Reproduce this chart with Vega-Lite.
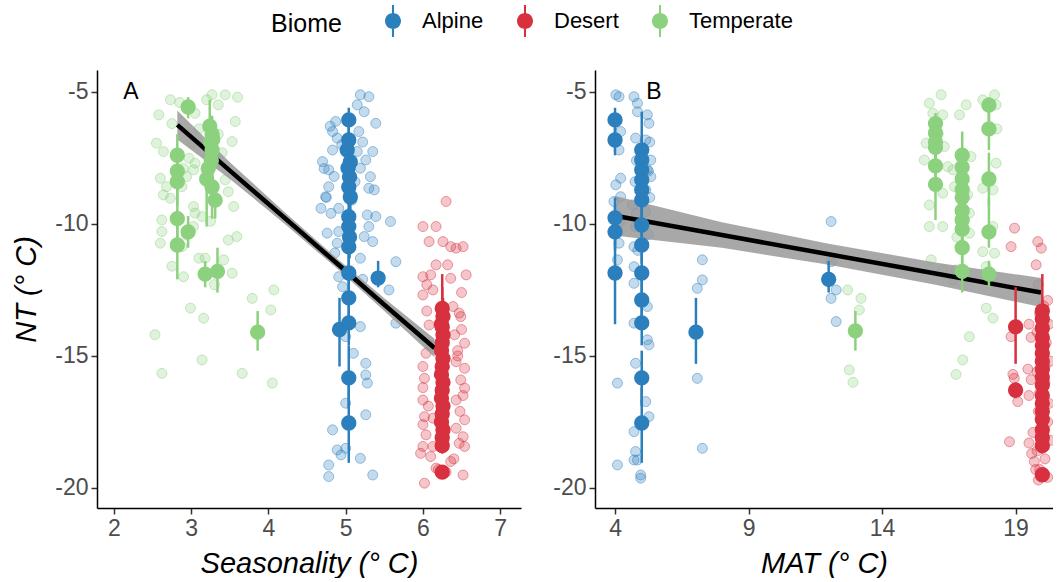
{
  "$schema": "https://vega.github.io/schema/vega-lite/v6.json",
  "background": "white",
  "padding": {"left": 12, "top": 10, "right": 0, "bottom": 0},
  "bounds": "flush",
  "spacing": 74,
  "config": {
    "view": {"stroke": null},
    "font": "Liberation Sans",
    "axis": {"domainColor": "black", "domainWidth": 1.5, "tickColor": "#333333", "tickWidth": 1.5, "tickSize": 6, "labelColor": "#4d4d4d", "labelFontSize": 23, "labelFont": "Liberation Sans", "labelPadding": 3, "grid": false, "titleFont": "Liberation Sans", "titleFontSize": 29, "titleFontStyle": "italic", "titleFontWeight": "normal", "titleColor": "black"}
  },
  "datasets": {
    "rawA": [
      {"x":2.73,"NT":-5.30,"Biome":"Temperate"},{"x":3.27,"NT":-5.11,"Biome":"Temperate"},{"x":3.44,"NT":-5.11,"Biome":"Temperate"},{"x":3.35,"NT":-5.49,"Biome":"Temperate"},{"x":2.58,"NT":-5.87,"Biome":"Temperate"},{"x":3.05,"NT":-5.81,"Biome":"Temperate"},{"x":3.57,"NT":-6.12,"Biome":"Temperate"},{"x":2.55,"NT":-6.94,"Biome":"Temperate"},{"x":3.01,"NT":-6.94,"Biome":"Temperate"},{"x":3.53,"NT":-6.88,"Biome":"Temperate"},{"x":2.64,"NT":-7.26,"Biome":"Temperate"},{"x":2.97,"NT":-7.51,"Biome":"Temperate"},{"x":3.05,"NT":-7.70,"Biome":"Temperate"},{"x":3.03,"NT":-7.95,"Biome":"Temperate"},{"x":2.60,"NT":-8.27,"Biome":"Temperate"},{"x":2.94,"NT":-8.21,"Biome":"Temperate"},{"x":3.44,"NT":-8.33,"Biome":"Temperate"},{"x":2.68,"NT":-8.59,"Biome":"Temperate"},{"x":2.64,"NT":-8.90,"Biome":"Temperate"},{"x":2.88,"NT":-8.59,"Biome":"Temperate"},{"x":3.48,"NT":-8.78,"Biome":"Temperate"},{"x":2.73,"NT":-9.03,"Biome":"Temperate"},{"x":3.03,"NT":-9.34,"Biome":"Temperate"},{"x":3.55,"NT":-9.34,"Biome":"Temperate"},{"x":3.05,"NT":-9.59,"Biome":"Temperate"},{"x":2.62,"NT":-9.85,"Biome":"Temperate"},{"x":3.14,"NT":-9.72,"Biome":"Temperate"},{"x":2.62,"NT":-10.29,"Biome":"Temperate"},{"x":3.03,"NT":-10.10,"Biome":"Temperate"},{"x":2.94,"NT":-10.42,"Biome":"Temperate"},{"x":3.59,"NT":-10.48,"Biome":"Temperate"},{"x":3.48,"NT":-10.61,"Biome":"Temperate"},{"x":2.60,"NT":-10.73,"Biome":"Temperate"},{"x":2.88,"NT":-10.86,"Biome":"Temperate"},{"x":3.10,"NT":-11.30,"Biome":"Temperate"},{"x":3.42,"NT":-11.36,"Biome":"Temperate"},{"x":2.90,"NT":-12.0,"Biome":"Temperate"},{"x":3.53,"NT":-11.87,"Biome":"Temperate"},{"x":3.18,"NT":-11.30,"Biome":"Temperate"},{"x":3.79,"NT":-12.82,"Biome":"Temperate"},{"x":4.07,"NT":-12.50,"Biome":"Temperate"},{"x":4.03,"NT":-13.26,"Biome":"Temperate"},{"x":2.99,"NT":-13.19,"Biome":"Temperate"},{"x":3.16,"NT":-13.57,"Biome":"Temperate"},{"x":2.53,"NT":-14.2,"Biome":"Temperate"},{"x":3.14,"NT":-15.15,"Biome":"Temperate"},{"x":2.62,"NT":-15.66,"Biome":"Temperate"},{"x":3.66,"NT":-15.66,"Biome":"Temperate"},{"x":4.05,"NT":-16.03,"Biome":"Temperate"},{"x":2.85,"NT":-5.4,"Biome":"Temperate"},{"x":3.2,"NT":-5.3,"Biome":"Temperate"},{"x":3.6,"NT":-5.2,"Biome":"Temperate"},{"x":3.1,"NT":-6.4,"Biome":"Temperate"},{"x":3.35,"NT":-6.6,"Biome":"Temperate"},{"x":2.75,"NT":-6.2,"Biome":"Temperate"},{"x":3.4,"NT":-7.3,"Biome":"Temperate"},{"x":2.9,"NT":-7.9,"Biome":"Temperate"},{"x":3.25,"NT":-9.9,"Biome":"Temperate"},{"x":2.75,"NT":-11.6,"Biome":"Temperate"},{"x":3.3,"NT":-12.3,"Biome":"Temperate"},
      {"x":5.19,"NT":-5.11,"Biome":"Alpine"},{"x":5.30,"NT":-5.18,"Biome":"Alpine"},{"x":5.15,"NT":-5.49,"Biome":"Alpine"},{"x":5.24,"NT":-5.75,"Biome":"Alpine"},{"x":4.87,"NT":-6.12,"Biome":"Alpine"},{"x":5.39,"NT":-6.19,"Biome":"Alpine"},{"x":4.83,"NT":-6.50,"Biome":"Alpine"},{"x":4.89,"NT":-6.75,"Biome":"Alpine"},{"x":5.17,"NT":-6.50,"Biome":"Alpine"},{"x":4.83,"NT":-7.20,"Biome":"Alpine"},{"x":5.35,"NT":-7.26,"Biome":"Alpine"},{"x":5.15,"NT":-7.26,"Biome":"Alpine"},{"x":4.70,"NT":-7.64,"Biome":"Alpine"},{"x":4.78,"NT":-7.95,"Biome":"Alpine"},{"x":5.19,"NT":-7.89,"Biome":"Alpine"},{"x":5.26,"NT":-7.58,"Biome":"Alpine"},{"x":5.32,"NT":-8.21,"Biome":"Alpine"},{"x":4.78,"NT":-8.59,"Biome":"Alpine"},{"x":5.30,"NT":-8.65,"Biome":"Alpine"},{"x":4.74,"NT":-8.97,"Biome":"Alpine"},{"x":5.37,"NT":-8.71,"Biome":"Alpine"},{"x":4.91,"NT":-9.41,"Biome":"Alpine"},{"x":4.68,"NT":-9.41,"Biome":"Alpine"},{"x":4.81,"NT":-9.60,"Biome":"Alpine"},{"x":5.28,"NT":-9.66,"Biome":"Alpine"},{"x":5.39,"NT":-9.72,"Biome":"Alpine"},{"x":5.58,"NT":-9.91,"Biome":"Alpine"},{"x":4.91,"NT":-10.29,"Biome":"Alpine"},{"x":4.76,"NT":-10.35,"Biome":"Alpine"},{"x":5.24,"NT":-10.48,"Biome":"Alpine"},{"x":4.89,"NT":-10.73,"Biome":"Alpine"},{"x":5.35,"NT":-10.67,"Biome":"Alpine"},{"x":5.19,"NT":-11.30,"Biome":"Alpine"},{"x":5.65,"NT":-11.43,"Biome":"Alpine"},{"x":4.91,"NT":-12.0,"Biome":"Alpine"},{"x":5.56,"NT":-12.50,"Biome":"Alpine"},{"x":4.96,"NT":-12.38,"Biome":"Alpine"},{"x":5.65,"NT":-13.76,"Biome":"Alpine"},{"x":5.19,"NT":-13.89,"Biome":"Alpine"},{"x":5.0,"NT":-14.27,"Biome":"Alpine"},{"x":5.26,"NT":-15.28,"Biome":"Alpine"},{"x":5.26,"NT":-15.72,"Biome":"Alpine"},{"x":5.28,"NT":-16.03,"Biome":"Alpine"},{"x":5.0,"NT":-16.79,"Biome":"Alpine"},{"x":5.26,"NT":-17.23,"Biome":"Alpine"},{"x":4.83,"NT":-17.80,"Biome":"Alpine"},{"x":5.0,"NT":-18.50,"Biome":"Alpine"},{"x":4.89,"NT":-18.56,"Biome":"Alpine"},{"x":4.78,"NT":-19.13,"Biome":"Alpine"},{"x":5.19,"NT":-18.88,"Biome":"Alpine"},{"x":5.35,"NT":-19.51,"Biome":"Alpine"},{"x":4.78,"NT":-19.57,"Biome":"Alpine"},{"x":4.94,"NT":-18.75,"Biome":"Alpine"},{"x":4.72,"NT":-7.9,"Biome":"Alpine"},{"x":4.85,"NT":-8.2,"Biome":"Alpine"},{"x":5.12,"NT":-8.4,"Biome":"Alpine"},{"x":4.95,"NT":-7.0,"Biome":"Alpine"},{"x":5.22,"NT":-6.9,"Biome":"Alpine"},{"x":4.8,"NT":-6.3,"Biome":"Alpine"},{"x":5.08,"NT":-9.1,"Biome":"Alpine"},{"x":4.75,"NT":-9.0,"Biome":"Alpine"},{"x":5.3,"NT":-10.1,"Biome":"Alpine"},{"x":4.86,"NT":-11.1,"Biome":"Alpine"},{"x":5.22,"NT":-12.1,"Biome":"Alpine"},{"x":5.1,"NT":-14.9,"Biome":"Alpine"},
      {"x":6.30,"NT":-9.15,"Biome":"Desert"},{"x":6.00,"NT":-10.10,"Biome":"Desert"},{"x":6.17,"NT":-10.10,"Biome":"Desert"},{"x":6.08,"NT":-10.67,"Biome":"Desert"},{"x":6.26,"NT":-10.67,"Biome":"Desert"},{"x":6.36,"NT":-10.86,"Biome":"Desert"},{"x":6.52,"NT":-10.86,"Biome":"Desert"},{"x":6.43,"NT":-10.92,"Biome":"Desert"},{"x":6.17,"NT":-11.55,"Biome":"Desert"},{"x":6.32,"NT":-11.55,"Biome":"Desert"},{"x":6.00,"NT":-12.0,"Biome":"Desert"},{"x":6.10,"NT":-11.93,"Biome":"Desert"},{"x":6.56,"NT":-11.93,"Biome":"Desert"},{"x":6.36,"NT":-12.06,"Biome":"Desert"},{"x":6.00,"NT":-12.69,"Biome":"Desert"},{"x":6.13,"NT":-12.5,"Biome":"Desert"},{"x":6.39,"NT":-13.13,"Biome":"Desert"},{"x":6.47,"NT":-13.38,"Biome":"Desert"},{"x":6.49,"NT":-13.51,"Biome":"Desert"},{"x":6.08,"NT":-13.83,"Biome":"Desert"},{"x":6.41,"NT":-14.2,"Biome":"Desert"},{"x":6.54,"NT":-14.52,"Biome":"Desert"},{"x":6.04,"NT":-14.9,"Biome":"Desert"},{"x":6.43,"NT":-15.22,"Biome":"Desert"},{"x":6.54,"NT":-15.47,"Biome":"Desert"},{"x":6.02,"NT":-15.85,"Biome":"Desert"},{"x":6.49,"NT":-15.91,"Biome":"Desert"},{"x":6.54,"NT":-16.22,"Biome":"Desert"},{"x":6.0,"NT":-16.67,"Biome":"Desert"},{"x":6.43,"NT":-16.67,"Biome":"Desert"},{"x":6.02,"NT":-17.3,"Biome":"Desert"},{"x":6.13,"NT":-17.36,"Biome":"Desert"},{"x":6.54,"NT":-17.42,"Biome":"Desert"},{"x":6.43,"NT":-17.74,"Biome":"Desert"},{"x":6.04,"NT":-17.99,"Biome":"Desert"},{"x":6.52,"NT":-18.06,"Biome":"Desert"},{"x":6.0,"NT":-18.43,"Biome":"Desert"},{"x":6.13,"NT":-18.43,"Biome":"Desert"},{"x":6.47,"NT":-18.31,"Biome":"Desert"},{"x":6.54,"NT":-18.43,"Biome":"Desert"},{"x":5.97,"NT":-18.69,"Biome":"Desert"},{"x":6.10,"NT":-18.81,"Biome":"Desert"},{"x":6.36,"NT":-19.0,"Biome":"Desert"},{"x":6.17,"NT":-19.25,"Biome":"Desert"},{"x":6.52,"NT":-19.51,"Biome":"Desert"},{"x":6.02,"NT":-19.82,"Biome":"Desert"},{"x":6.05,"NT":-13.3,"Biome":"Desert"},{"x":6.5,"NT":-14.0,"Biome":"Desert"},{"x":6.1,"NT":-14.6,"Biome":"Desert"},{"x":6.45,"NT":-15.0,"Biome":"Desert"},{"x":6.0,"NT":-15.4,"Biome":"Desert"},{"x":6.52,"NT":-16.5,"Biome":"Desert"},{"x":6.07,"NT":-16.9,"Biome":"Desert"},{"x":6.48,"NT":-17.1,"Biome":"Desert"},{"x":6.0,"NT":-17.6,"Biome":"Desert"},{"x":6.2,"NT":-19.3,"Biome":"Desert"},{"x":6.3,"NT":-19.4,"Biome":"Desert"},{"x":6.4,"NT":-18.9,"Biome":"Desert"},{"x":6.05,"NT":-12.3,"Biome":"Desert"},{"x":6.5,"NT":-12.6,"Biome":"Desert"},{"x":6.45,"NT":-14.8,"Biome":"Desert"},{"x":6.0,"NT":-16.2,"Biome":"Desert"}
    ],
    "rawB": [
      {"x":4.03,"NT":-5.11,"Biome":"Alpine"},{"x":4.15,"NT":-5.18,"Biome":"Alpine"},{"x":4.71,"NT":-5.18,"Biome":"Alpine"},{"x":4.84,"NT":-5.43,"Biome":"Alpine"},{"x":4.84,"NT":-5.75,"Biome":"Alpine"},{"x":5.21,"NT":-5.87,"Biome":"Alpine"},{"x":5.27,"NT":-6.19,"Biome":"Alpine"},{"x":4.21,"NT":-6.5,"Biome":"Alpine"},{"x":4.77,"NT":-6.75,"Biome":"Alpine"},{"x":4.15,"NT":-7.2,"Biome":"Alpine"},{"x":5.15,"NT":-6.82,"Biome":"Alpine"},{"x":5.34,"NT":-7.58,"Biome":"Alpine"},{"x":5.21,"NT":-7.95,"Biome":"Alpine"},{"x":4.21,"NT":-8.27,"Biome":"Alpine"},{"x":4.03,"NT":-8.52,"Biome":"Alpine"},{"x":5.34,"NT":-8.21,"Biome":"Alpine"},{"x":5.15,"NT":-8.71,"Biome":"Alpine"},{"x":4.21,"NT":-8.97,"Biome":"Alpine"},{"x":3.96,"NT":-9.15,"Biome":"Alpine"},{"x":4.65,"NT":-9.28,"Biome":"Alpine"},{"x":5.15,"NT":-9.53,"Biome":"Alpine"},{"x":4.21,"NT":-9.91,"Biome":"Alpine"},{"x":4.77,"NT":-10.10,"Biome":"Alpine"},{"x":4.15,"NT":-10.73,"Biome":"Alpine"},{"x":4.71,"NT":-10.86,"Biome":"Alpine"},{"x":4.09,"NT":-11.36,"Biome":"Alpine"},{"x":4.71,"NT":-11.62,"Biome":"Alpine"},{"x":7.27,"NT":-11.36,"Biome":"Alpine"},{"x":7.27,"NT":-12.12,"Biome":"Alpine"},{"x":7.08,"NT":-12.44,"Biome":"Alpine"},{"x":4.71,"NT":-12.25,"Biome":"Alpine"},{"x":5.21,"NT":-13.13,"Biome":"Alpine"},{"x":4.71,"NT":-13.76,"Biome":"Alpine"},{"x":5.21,"NT":-14.39,"Biome":"Alpine"},{"x":5.27,"NT":-14.58,"Biome":"Alpine"},{"x":4.77,"NT":-15.28,"Biome":"Alpine"},{"x":4.09,"NT":-16.03,"Biome":"Alpine"},{"x":7.08,"NT":-15.85,"Biome":"Alpine"},{"x":5.15,"NT":-16.73,"Biome":"Alpine"},{"x":5.27,"NT":-17.3,"Biome":"Alpine"},{"x":4.71,"NT":-17.87,"Biome":"Alpine"},{"x":7.27,"NT":-18.5,"Biome":"Alpine"},{"x":4.09,"NT":-19.13,"Biome":"Alpine"},{"x":4.77,"NT":-18.62,"Biome":"Alpine"},{"x":4.84,"NT":-18.94,"Biome":"Alpine"},{"x":4.96,"NT":-19.51,"Biome":"Alpine"},{"x":4.96,"NT":-19.63,"Biome":"Alpine"},{"x":4.71,"NT":-18.94,"Biome":"Alpine"},{"x":5.3,"NT":-6.9,"Biome":"Alpine"},{"x":4.8,"NT":-7.6,"Biome":"Alpine"},{"x":5.25,"NT":-8.0,"Biome":"Alpine"},{"x":4.75,"NT":-8.4,"Biome":"Alpine"},{"x":5.3,"NT":-9.0,"Biome":"Alpine"},{"x":4.8,"NT":-9.6,"Biome":"Alpine"},{"x":5.25,"NT":-10.4,"Biome":"Alpine"},{"x":4.85,"NT":-11.0,"Biome":"Alpine"},{"x":12.09,"NT":-9.91,"Biome":"Alpine"},{"x":12.1,"NT":-11.43,"Biome":"Alpine"},{"x":12.28,"NT":-12.5,"Biome":"Alpine"},{"x":12.09,"NT":-12.82,"Biome":"Alpine"},{"x":12.28,"NT":-13.7,"Biome":"Alpine"},
      {"x":15.77,"NT":-5.43,"Biome":"Temperate"},{"x":16.21,"NT":-5.11,"Biome":"Temperate"},{"x":15.90,"NT":-5.81,"Biome":"Temperate"},{"x":16.27,"NT":-5.87,"Biome":"Temperate"},{"x":16.90,"NT":-5.87,"Biome":"Temperate"},{"x":17.15,"NT":-5.49,"Biome":"Temperate"},{"x":17.77,"NT":-5.30,"Biome":"Temperate"},{"x":18.21,"NT":-5.11,"Biome":"Temperate"},{"x":18.27,"NT":-5.49,"Biome":"Temperate"},{"x":15.65,"NT":-6.94,"Biome":"Temperate"},{"x":16.33,"NT":-7.07,"Biome":"Temperate"},{"x":15.58,"NT":-7.58,"Biome":"Temperate"},{"x":16.46,"NT":-7.83,"Biome":"Temperate"},{"x":16.65,"NT":-7.95,"Biome":"Temperate"},{"x":17.33,"NT":-7.45,"Biome":"Temperate"},{"x":18.27,"NT":-7.70,"Biome":"Temperate"},{"x":16.27,"NT":-8.84,"Biome":"Temperate"},{"x":16.71,"NT":-8.59,"Biome":"Temperate"},{"x":17.77,"NT":-8.65,"Biome":"Temperate"},{"x":18.15,"NT":-8.71,"Biome":"Temperate"},{"x":15.77,"NT":-9.28,"Biome":"Temperate"},{"x":17.27,"NT":-9.59,"Biome":"Temperate"},{"x":16.27,"NT":-10.10,"Biome":"Temperate"},{"x":15.77,"NT":-10.10,"Biome":"Temperate"},{"x":18.15,"NT":-10.10,"Biome":"Temperate"},{"x":17.27,"NT":-10.35,"Biome":"Temperate"},{"x":17.77,"NT":-11.05,"Biome":"Temperate"},{"x":18.21,"NT":-11.11,"Biome":"Temperate"},{"x":15.84,"NT":-11.36,"Biome":"Temperate"},{"x":16.77,"NT":-11.74,"Biome":"Temperate"},{"x":17.90,"NT":-11.62,"Biome":"Temperate"},{"x":16.65,"NT":-12.12,"Biome":"Temperate"},{"x":16.27,"NT":-11.74,"Biome":"Temperate"},{"x":17.08,"NT":-11.81,"Biome":"Temperate"},{"x":12.71,"NT":-12.5,"Biome":"Temperate"},{"x":13.21,"NT":-12.82,"Biome":"Temperate"},{"x":13.15,"NT":-13.26,"Biome":"Temperate"},{"x":17.90,"NT":-13.19,"Biome":"Temperate"},{"x":18.15,"NT":-13.57,"Biome":"Temperate"},{"x":17.27,"NT":-14.27,"Biome":"Temperate"},{"x":17.02,"NT":-15.15,"Biome":"Temperate"},{"x":12.77,"NT":-15.53,"Biome":"Temperate"},{"x":12.91,"NT":-16.0,"Biome":"Temperate"},{"x":16.77,"NT":-15.7,"Biome":"Temperate"},{"x":16.1,"NT":-6.6,"Biome":"Temperate"},{"x":17.2,"NT":-8.9,"Biome":"Temperate"},{"x":16.8,"NT":-10.5,"Biome":"Temperate"},{"x":18.3,"NT":-6.4,"Biome":"Temperate"},
      {"x":18.96,"NT":-10.16,"Biome":"Desert"},{"x":18.83,"NT":-10.86,"Biome":"Desert"},{"x":19.83,"NT":-10.67,"Biome":"Desert"},{"x":19.96,"NT":-10.92,"Biome":"Desert"},{"x":19.77,"NT":-11.55,"Biome":"Desert"},{"x":18.83,"NT":-14.27,"Biome":"Desert"},{"x":18.9,"NT":-15.7,"Biome":"Desert"},{"x":18.95,"NT":-15.85,"Biome":"Desert"},{"x":19.08,"NT":-16.73,"Biome":"Desert"},{"x":18.77,"NT":-18.25,"Biome":"Desert"},{"x":19.46,"NT":-15.5,"Biome":"Desert"},{"x":19.58,"NT":-15.9,"Biome":"Desert"},{"x":19.5,"NT":-16.5,"Biome":"Desert"},{"x":19.65,"NT":-17.9,"Biome":"Desert"},{"x":19.6,"NT":-18.7,"Biome":"Desert"},{"x":19.7,"NT":-19.0,"Biome":"Desert"},{"x":19.75,"NT":-19.3,"Biome":"Desert"},{"x":19.5,"NT":-18.3,"Biome":"Desert"},{"x":19.5,"NT":-13.8,"Biome":"Desert"},{"x":19.58,"NT":-14.3,"Biome":"Desert"},{"x":19.85,"NT":-12.3,"Biome":"Desert"},{"x":20.2,"NT":-12.9,"Biome":"Desert"},{"x":19.9,"NT":-13.4,"Biome":"Desert"},{"x":20.25,"NT":-13.8,"Biome":"Desert"},{"x":19.8,"NT":-14.1,"Biome":"Desert"},{"x":20.15,"NT":-14.5,"Biome":"Desert"},{"x":19.95,"NT":-14.9,"Biome":"Desert"},{"x":20.3,"NT":-15.2,"Biome":"Desert"},{"x":19.8,"NT":-15.6,"Biome":"Desert"},{"x":20.1,"NT":-16.0,"Biome":"Desert"},{"x":19.9,"NT":-16.4,"Biome":"Desert"},{"x":20.25,"NT":-16.8,"Biome":"Desert"},{"x":19.85,"NT":-17.1,"Biome":"Desert"},{"x":20.2,"NT":-17.5,"Biome":"Desert"},{"x":19.95,"NT":-17.9,"Biome":"Desert"},{"x":20.3,"NT":-18.2,"Biome":"Desert"},{"x":19.8,"NT":-18.6,"Biome":"Desert"},{"x":20.1,"NT":-18.9,"Biome":"Desert"},{"x":19.9,"NT":-19.3,"Biome":"Desert"},{"x":20.2,"NT":-19.6,"Biome":"Desert"},{"x":19.85,"NT":-19.7,"Biome":"Desert"},{"x":20.05,"NT":-13.1,"Biome":"Desert"},{"x":20.1,"NT":-15.4,"Biome":"Desert"},{"x":19.95,"NT":-16.6,"Biome":"Desert"},{"x":20.0,"NT":-18.1,"Biome":"Desert"}
    ],
    "meansA": [
      {"x":2.82,"NT":-7.4,"lo":-8.2,"hi":-6.6,"Biome":"Temperate"},{"x":2.82,"NT":-8.0,"lo":-8.8,"hi":-7.2,"Biome":"Temperate"},{"x":2.82,"NT":-8.4,"lo":-9.3,"hi":-7.6,"Biome":"Temperate"},{"x":2.82,"NT":-9.8,"lo":-10.9,"hi":-8.8,"Biome":"Temperate"},{"x":2.82,"NT":-10.8,"lo":-12.1,"hi":-9.6,"Biome":"Temperate"},{"x":2.96,"NT":-5.57,"lo":-6.0,"hi":-5.2,"Biome":"Temperate"},{"x":2.96,"NT":-10.3,"lo":-10.9,"hi":-9.7,"Biome":"Temperate"},{"x":3.24,"NT":-6.3,"lo":-7.0,"hi":-5.3,"Biome":"Temperate"},{"x":3.27,"NT":-6.6,"lo":-7.4,"hi":-5.9,"Biome":"Temperate"},{"x":3.25,"NT":-6.9,"lo":-7.6,"hi":-6.2,"Biome":"Temperate"},{"x":3.28,"NT":-6.8,"lo":-7.5,"hi":-6.1,"Biome":"Temperate"},{"x":3.27,"NT":-7.2,"lo":-8.2,"hi":-6.4,"Biome":"Temperate"},{"x":3.26,"NT":-7.6,"lo":-8.5,"hi":-6.8,"Biome":"Temperate"},{"x":3.22,"NT":-7.9,"lo":-8.6,"hi":-7.2,"Biome":"Temperate"},{"x":3.20,"NT":-8.3,"lo":-10.1,"hi":-6.5,"Biome":"Temperate"},{"x":3.27,"NT":-8.6,"lo":-9.8,"hi":-7.4,"Biome":"Temperate"},{"x":3.31,"NT":-9.1,"lo":-9.8,"hi":-8.4,"Biome":"Temperate"},{"x":3.18,"NT":-11.9,"lo":-12.4,"hi":-11.4,"Biome":"Temperate"},{"x":3.34,"NT":-11.8,"lo":-12.6,"hi":-10.9,"Biome":"Temperate"},{"x":3.86,"NT":-14.1,"lo":-14.8,"hi":-13.3,"Biome":"Temperate"},
      {"x":5.04,"NT":-6.06,"lo":-6.6,"hi":-5.6,"Biome":"Alpine"},{"x":5.04,"NT":-6.82,"lo":-7.5,"hi":-6.2,"Biome":"Alpine"},{"x":5.02,"NT":-7.2,"lo":-7.9,"hi":-6.6,"Biome":"Alpine"},{"x":5.06,"NT":-7.65,"lo":-8.3,"hi":-7.0,"Biome":"Alpine"},{"x":5.03,"NT":-7.88,"lo":-8.6,"hi":-7.2,"Biome":"Alpine"},{"x":5.05,"NT":-8.22,"lo":-9.0,"hi":-7.5,"Biome":"Alpine"},{"x":5.04,"NT":-8.6,"lo":-9.3,"hi":-7.9,"Biome":"Alpine"},{"x":5.06,"NT":-8.98,"lo":-9.7,"hi":-8.3,"Biome":"Alpine"},{"x":5.04,"NT":-9.73,"lo":-10.4,"hi":-9.0,"Biome":"Alpine"},{"x":5.04,"NT":-10.1,"lo":-10.9,"hi":-9.4,"Biome":"Alpine"},{"x":5.05,"NT":-10.5,"lo":-11.3,"hi":-9.8,"Biome":"Alpine"},{"x":5.04,"NT":-10.87,"lo":-11.6,"hi":-10.1,"Biome":"Alpine"},{"x":5.04,"NT":-11.86,"lo":-12.8,"hi":-11.0,"Biome":"Alpine"},{"x":5.04,"NT":-12.8,"lo":-13.9,"hi":-11.8,"Biome":"Alpine"},{"x":5.04,"NT":-13.75,"lo":-14.6,"hi":-12.8,"Biome":"Alpine"},{"x":4.92,"NT":-14.0,"lo":-15.4,"hi":-12.8,"Biome":"Alpine"},{"x":5.04,"NT":-15.83,"lo":-17.0,"hi":-14.6,"Biome":"Alpine"},{"x":5.04,"NT":-17.54,"lo":-19.05,"hi":-16.0,"Biome":"Alpine"},{"x":5.42,"NT":-12.05,"lo":-12.4,"hi":-11.4,"Biome":"Alpine"},
      {"x":6.25,"NT":-13.2,"lo":-14.0,"hi":-11.9,"Biome":"Desert"},{"x":6.26,"NT":-13.5,"lo":-14.1,"hi":-12.8,"Biome":"Desert"},{"x":6.24,"NT":-13.8,"lo":-14.5,"hi":-13.1,"Biome":"Desert"},{"x":6.25,"NT":-13.9,"lo":-15.3,"hi":-12.4,"Biome":"Desert"},{"x":6.26,"NT":-14.2,"lo":-14.8,"hi":-13.5,"Biome":"Desert"},{"x":6.25,"NT":-14.5,"lo":-15.2,"hi":-13.9,"Biome":"Desert"},{"x":6.24,"NT":-14.8,"lo":-15.4,"hi":-14.1,"Biome":"Desert"},{"x":6.26,"NT":-15.1,"lo":-15.8,"hi":-14.5,"Biome":"Desert"},{"x":6.25,"NT":-15.4,"lo":-16.0,"hi":-14.8,"Biome":"Desert"},{"x":6.24,"NT":-15.7,"lo":-16.3,"hi":-15.0,"Biome":"Desert"},{"x":6.26,"NT":-16.0,"lo":-16.6,"hi":-15.3,"Biome":"Desert"},{"x":6.25,"NT":-16.3,"lo":-16.6,"hi":-16.0,"Biome":"Desert"},{"x":6.24,"NT":-16.6,"lo":-17.2,"hi":-16.0,"Biome":"Desert"},{"x":6.26,"NT":-16.9,"lo":-17.5,"hi":-16.3,"Biome":"Desert"},{"x":6.25,"NT":-17.2,"lo":-17.8,"hi":-16.6,"Biome":"Desert"},{"x":6.24,"NT":-17.5,"lo":-18.1,"hi":-16.9,"Biome":"Desert"},{"x":6.26,"NT":-17.8,"lo":-18.3,"hi":-17.2,"Biome":"Desert"},{"x":6.25,"NT":-18.1,"lo":-18.5,"hi":-17.5,"Biome":"Desert"},{"x":6.25,"NT":-18.4,"lo":-18.7,"hi":-17.9,"Biome":"Desert"},{"x":6.25,"NT":-19.4,"lo":-19.6,"hi":-19.2,"Biome":"Desert"}
    ],
    "meansB": [
      {"x":4.0,"NT":-6.06,"lo":-6.6,"hi":-5.6,"Biome":"Alpine"},{"x":4.0,"NT":-6.82,"lo":-7.4,"hi":-6.3,"Biome":"Alpine"},{"x":4.0,"NT":-9.77,"lo":-10.5,"hi":-9.0,"Biome":"Alpine"},{"x":4.0,"NT":-10.3,"lo":-11.0,"hi":-9.3,"Biome":"Alpine"},{"x":4.0,"NT":-11.86,"lo":-13.8,"hi":-10.2,"Biome":"Alpine"},{"x":5.0,"NT":-7.2,"lo":-8.0,"hi":-5.75,"Biome":"Alpine"},{"x":5.0,"NT":-7.58,"lo":-8.3,"hi":-6.8,"Biome":"Alpine"},{"x":5.0,"NT":-7.95,"lo":-8.7,"hi":-7.2,"Biome":"Alpine"},{"x":5.0,"NT":-8.33,"lo":-9.0,"hi":-7.6,"Biome":"Alpine"},{"x":5.0,"NT":-8.71,"lo":-9.4,"hi":-8.0,"Biome":"Alpine"},{"x":5.0,"NT":-9.09,"lo":-9.8,"hi":-8.4,"Biome":"Alpine"},{"x":5.0,"NT":-10.04,"lo":-10.8,"hi":-9.3,"Biome":"Alpine"},{"x":5.0,"NT":-10.8,"lo":-11.5,"hi":-10.1,"Biome":"Alpine"},{"x":5.0,"NT":-11.86,"lo":-12.6,"hi":-11.1,"Biome":"Alpine"},{"x":5.0,"NT":-12.88,"lo":-13.6,"hi":-12.1,"Biome":"Alpine"},{"x":5.0,"NT":-13.75,"lo":-14.6,"hi":-12.9,"Biome":"Alpine"},{"x":5.0,"NT":-15.83,"lo":-16.9,"hi":-14.8,"Biome":"Alpine"},{"x":5.0,"NT":-17.54,"lo":-19.05,"hi":-16.2,"Biome":"Alpine"},{"x":7.03,"NT":-14.1,"lo":-15.3,"hi":-12.8,"Biome":"Alpine"},{"x":12.0,"NT":-12.1,"lo":-12.6,"hi":-11.4,"Biome":"Alpine"},
      {"x":16.0,"NT":-6.2,"lo":-6.9,"hi":-5.8,"Biome":"Temperate"},{"x":16.0,"NT":-6.55,"lo":-7.3,"hi":-5.9,"Biome":"Temperate"},{"x":16.0,"NT":-6.9,"lo":-7.6,"hi":-6.2,"Biome":"Temperate"},{"x":16.0,"NT":-7.1,"lo":-7.9,"hi":-6.4,"Biome":"Temperate"},{"x":16.0,"NT":-7.8,"lo":-8.6,"hi":-7.0,"Biome":"Temperate"},{"x":16.0,"NT":-8.5,"lo":-9.85,"hi":-7.2,"Biome":"Temperate"},{"x":17.0,"NT":-7.4,"lo":-8.1,"hi":-6.5,"Biome":"Temperate"},{"x":17.0,"NT":-7.85,"lo":-8.6,"hi":-7.1,"Biome":"Temperate"},{"x":17.0,"NT":-8.3,"lo":-9.0,"hi":-7.6,"Biome":"Temperate"},{"x":17.0,"NT":-8.7,"lo":-9.4,"hi":-8.0,"Biome":"Temperate"},{"x":17.0,"NT":-9.0,"lo":-9.8,"hi":-8.3,"Biome":"Temperate"},{"x":17.0,"NT":-9.5,"lo":-10.2,"hi":-8.8,"Biome":"Temperate"},{"x":17.0,"NT":-9.85,"lo":-10.6,"hi":-9.1,"Biome":"Temperate"},{"x":17.0,"NT":-10.2,"lo":-11.0,"hi":-9.4,"Biome":"Temperate"},{"x":17.0,"NT":-10.9,"lo":-11.7,"hi":-10.1,"Biome":"Temperate"},{"x":17.0,"NT":-11.8,"lo":-12.6,"hi":-11.0,"Biome":"Temperate"},{"x":18.0,"NT":-5.5,"lo":-6.1,"hi":-5.2,"Biome":"Temperate"},{"x":18.0,"NT":-6.4,"lo":-7.2,"hi":-5.6,"Biome":"Temperate"},{"x":18.0,"NT":-8.3,"lo":-9.3,"hi":-7.3,"Biome":"Temperate"},{"x":18.0,"NT":-10.3,"lo":-10.9,"hi":-9.0,"Biome":"Temperate"},{"x":18.0,"NT":-11.9,"lo":-12.4,"hi":-11.4,"Biome":"Temperate"},{"x":13.0,"NT":-14.05,"lo":-14.8,"hi":-13.3,"Biome":"Temperate"},
      {"x":19.0,"NT":-13.9,"lo":-15.3,"hi":-12.4,"Biome":"Desert"},{"x":19.0,"NT":-16.3,"lo":-16.6,"hi":-16.0,"Biome":"Desert"},{"x":20.0,"NT":-13.3,"lo":-14.0,"hi":-11.9,"Biome":"Desert"},{"x":20.0,"NT":-13.6,"lo":-14.2,"hi":-12.9,"Biome":"Desert"},{"x":20.0,"NT":-13.95,"lo":-14.6,"hi":-13.3,"Biome":"Desert"},{"x":20.0,"NT":-14.3,"lo":-14.9,"hi":-13.6,"Biome":"Desert"},{"x":20.0,"NT":-14.6,"lo":-15.2,"hi":-14.0,"Biome":"Desert"},{"x":20.0,"NT":-14.9,"lo":-15.5,"hi":-14.3,"Biome":"Desert"},{"x":20.0,"NT":-15.2,"lo":-15.8,"hi":-14.6,"Biome":"Desert"},{"x":20.0,"NT":-15.5,"lo":-16.1,"hi":-14.9,"Biome":"Desert"},{"x":20.0,"NT":-15.8,"lo":-16.4,"hi":-15.2,"Biome":"Desert"},{"x":20.0,"NT":-16.1,"lo":-16.7,"hi":-15.5,"Biome":"Desert"},{"x":20.0,"NT":-16.5,"lo":-17.1,"hi":-15.9,"Biome":"Desert"},{"x":20.0,"NT":-16.8,"lo":-17.4,"hi":-16.2,"Biome":"Desert"},{"x":20.0,"NT":-17.1,"lo":-17.7,"hi":-16.5,"Biome":"Desert"},{"x":20.0,"NT":-17.4,"lo":-18.0,"hi":-16.8,"Biome":"Desert"},{"x":20.0,"NT":-17.8,"lo":-18.3,"hi":-17.2,"Biome":"Desert"},{"x":20.0,"NT":-18.1,"lo":-18.5,"hi":-17.6,"Biome":"Desert"},{"x":20.0,"NT":-18.4,"lo":-18.7,"hi":-17.9,"Biome":"Desert"},{"x":20.0,"NT":-19.5,"lo":-19.7,"hi":-19.3,"Biome":"Desert"}
    ],
    "fitA": [
      {"x":2.82,"NT":-6.25,"lo":-6.8,"hi":-5.7},{"x":3.5,"NT":-7.98,"lo":-8.3,"hi":-7.66},{"x":4.2,"NT":-9.75,"lo":-9.97,"hi":-9.53},{"x":4.9,"NT":-11.53,"lo":-11.72,"hi":-11.34},{"x":5.5,"NT":-13.06,"lo":-13.3,"hi":-12.82},{"x":6.15,"NT":-14.7,"lo":-15.05,"hi":-14.35}
    ],
    "fitB": [
      {"x":4.05,"NT":-9.7,"lo":-10.45,"hi":-8.95},{"x":8.0,"NT":-10.42,"lo":-10.9,"hi":-9.94},{"x":12.0,"NT":-11.15,"lo":-11.55,"hi":-10.75},{"x":16.0,"NT":-11.88,"lo":-12.3,"hi":-11.46},{"x":19.95,"NT":-12.6,"lo":-13.15,"hi":-12.05}
    ],
    "labA": [{"x":2.22,"NT":-5.0,"t":"A"}],
    "labB": [{"x":5.46,"NT":-5.0,"t":"B"}]
  },
  "hconcat": [
    {
      "width": 424,
      "height": 438,
      "layer": [
        {
          "data": {"name": "rawA"},
          "mark": {"type": "point", "filled": true, "size": 100, "fillOpacity": 0.28, "strokeOpacity": 0.45, "strokeWidth": 1},
          "encoding": {
            "x": {"field": "x", "type": "quantitative", "scale": {"domain": [1.78, 7.27], "nice": false, "zero": false}, "axis": {"values": [2, 3, 4, 5, 6, 7], "format": "d", "title": "Seasonality (° C)", "titlePadding": 9}},
            "y": {"field": "NT", "type": "quantitative", "scale": {"domain": [-20.76, -4.17], "nice": false, "zero": false}, "axis": {"values": [-20, -15, -10, -5], "title": "NT (° C)", "titlePadding": 13, "labelExpr": "replace(datum.label, '\u2212', '-')"}},
            "color": {"field": "Biome", "type": "nominal", "scale": {"domain": ["Alpine", "Desert", "Temperate"], "range": ["#2B7FBD", "#D7303F", "#8CD17D"]}},
            "stroke": {"field": "Biome", "type": "nominal", "scale": {"domain": ["Alpine", "Desert", "Temperate"], "range": ["#2B7FBD", "#D7303F", "#8CD17D"]}, "legend": null}
          }
        },
        {
          "data": {"name": "fitA"},
          "mark": {"type": "area", "color": "#999999", "opacity": 0.85},
          "encoding": {
            "x": {"field": "x", "type": "quantitative", "title": "Seasonality (° C)"},
            "y": {"field": "lo", "type": "quantitative", "title": "NT (° C)"},
            "y2": {"field": "hi"}
          }
        },
        {
          "data": {"name": "fitA"},
          "mark": {"type": "line", "color": "black", "strokeWidth": 4.5},
          "encoding": {
            "x": {"field": "x", "type": "quantitative", "title": "Seasonality (° C)"},
            "y": {"field": "NT", "type": "quantitative", "title": "NT (° C)"}
          }
        },
        {
          "data": {"name": "meansA"},
          "mark": {"type": "rule", "strokeWidth": 2.5},
          "encoding": {
            "x": {"field": "x", "type": "quantitative", "title": "Seasonality (° C)"},
            "y": {"field": "lo", "type": "quantitative", "title": "NT (° C)"},
            "y2": {"field": "hi"},
            "color": {"field": "Biome", "type": "nominal"}
          }
        },
        {
          "data": {"name": "meansA"},
          "mark": {"type": "point", "filled": true, "size": 235, "opacity": 1},
          "encoding": {
            "x": {"field": "x", "type": "quantitative", "title": "Seasonality (° C)"},
            "y": {"field": "NT", "type": "quantitative", "title": "NT (° C)"},
            "color": {"field": "Biome", "type": "nominal",
              "legend": {"title": "Biome", "orient": "none", "legendX": 174, "legendY": -60, "direction": "horizontal", "titleOrient": "left", "titleFontSize": 25, "titleFont": "Liberation Sans", "titleFontWeight": "normal", "titleColor": "black", "titlePadding": 40, "labelFontSize": 22, "labelFont": "Liberation Sans", "labelColor": "black", "labelOffset": 18, "columnPadding": 30, "symbolType": "M-0.13,-2L0.13,-2L0.13,2L-0.13,2Z M1,0A1,1 0 1,1 -1,0A1,1 0 1,1 1,0Z", "symbolSize": 256, "symbolOpacity": 1, "symbolStrokeWidth": 0}}
          }
        },
        {
          "data": {"name": "labA"},
          "mark": {"type": "text", "fontSize": 23, "color": "black", "font": "Liberation Sans"},
          "encoding": {
            "x": {"field": "x", "type": "quantitative", "title": "Seasonality (° C)"},
            "y": {"field": "NT", "type": "quantitative", "title": "NT (° C)"},
            "text": {"field": "t"}
          }
        }
      ]
    },
    {
      "width": 458,
      "height": 438,
      "layer": [
        {
          "data": {"name": "rawB"},
          "mark": {"type": "point", "filled": true, "size": 100, "fillOpacity": 0.28, "strokeOpacity": 0.45, "strokeWidth": 1, "clip": true},
          "encoding": {
            "x": {"field": "x", "type": "quantitative", "scale": {"domain": [3.25, 20.4], "nice": false, "zero": false}, "axis": {"values": [4, 9, 14, 19], "format": "d", "title": "MAT (° C)", "titlePadding": 9}},
            "y": {"field": "NT", "type": "quantitative", "scale": {"domain": [-20.76, -4.17], "nice": false, "zero": false}, "axis": {"values": [-20, -15, -10, -5], "title": null, "labelExpr": "replace(datum.label, '\u2212', '-')"}},
            "color": {"field": "Biome", "type": "nominal"},
            "stroke": {"field": "Biome", "type": "nominal", "legend": null}
          }
        },
        {
          "data": {"name": "fitB"},
          "mark": {"type": "area", "color": "#999999", "opacity": 0.85, "clip": true},
          "encoding": {
            "x": {"field": "x", "type": "quantitative", "title": "MAT (° C)"},
            "y": {"field": "lo", "type": "quantitative", "title": null},
            "y2": {"field": "hi"}
          }
        },
        {
          "data": {"name": "fitB"},
          "mark": {"type": "line", "color": "black", "strokeWidth": 4.5, "clip": true},
          "encoding": {
            "x": {"field": "x", "type": "quantitative", "title": "MAT (° C)"},
            "y": {"field": "NT", "type": "quantitative", "title": null}
          }
        },
        {
          "data": {"name": "meansB"},
          "mark": {"type": "rule", "strokeWidth": 2.5, "clip": true},
          "encoding": {
            "x": {"field": "x", "type": "quantitative", "title": "MAT (° C)"},
            "y": {"field": "lo", "type": "quantitative", "title": null},
            "y2": {"field": "hi"},
            "color": {"field": "Biome", "type": "nominal"}
          }
        },
        {
          "data": {"name": "meansB"},
          "mark": {"type": "point", "filled": true, "size": 235, "opacity": 1, "clip": true},
          "encoding": {
            "x": {"field": "x", "type": "quantitative", "title": "MAT (° C)"},
            "y": {"field": "NT", "type": "quantitative", "title": null},
            "color": {"field": "Biome", "type": "nominal"}
          }
        },
        {
          "data": {"name": "labB"},
          "mark": {"type": "text", "fontSize": 23, "color": "black", "font": "Liberation Sans"},
          "encoding": {
            "x": {"field": "x", "type": "quantitative", "title": "MAT (° C)"},
            "y": {"field": "NT", "type": "quantitative", "title": null},
            "text": {"field": "t"}
          }
        }
      ]
    }
  ]
}
